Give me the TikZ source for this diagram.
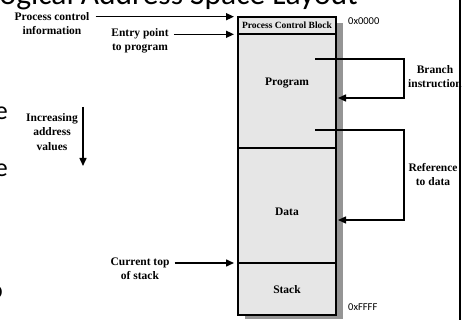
\documentclass[tikz,border=0pt]{standalone}
\usepackage{fontspec}
\setmainfont{Liberation Serif}
\newfontfamily\slidefont{Carlito}
\usetikzlibrary{arrows.meta}
\definecolor{boxfill}{HTML}{E6E6E6}
\definecolor{shadowgray}{HTML}{959595}
\tikzset{
  x=1pt, y=-1pt,
  sect/.style={draw=black, line width=1.7pt, fill=boxfill, anchor=north west,
    minimum width=98pt, inner sep=0pt, outer sep=0pt},
  lbl/.style={font=\fontsize{11.5}{14.5}\selectfont\bfseries, align=center, inner sep=2pt},
  boxtxt/.style={font=\fontsize{11.5}{14}\selectfont\bfseries, inner sep=0pt},
  addr/.style={font=\slidefont\fontsize{10.5}{12}\selectfont, anchor=west, inner sep=0pt},
  arr/.style={line width=1.5pt, -{Triangle[length=8pt,width=7pt]}},
  conn/.style={line width=1.5pt},
}
\begin{document}
\begin{tikzpicture}
\useasboundingbox (0,0) rectangle (473,320);
% slide title and clipped slide text
\node[font=\slidefont\fontsize{31.5}{36}\selectfont, anchor=base east, inner sep=0pt] (title) at (358,5) {Logical Address Space Layout};
\node[font=\slidefont\fontsize{26}{30}\selectfont, anchor=base east, inner sep=0pt] (fragA) at (8,120) {e};
\node[font=\slidefont\fontsize{26}{30}\selectfont, anchor=base east, inner sep=0pt] (fragB) at (8,177) {e};
\node[font=\slidefont\fontsize{26}{30}\selectfont, anchor=base east, inner sep=0pt] (fragC) at (3,298) {o};
% shadow
\fill[shadowgray] (245,23) rectangle (343,319);
% memory sections
\node[sect, minimum height=17.6pt] (pcb) at (238,16.7) {};
\node[sect, minimum height=113.7pt] (prog) at (238,34.3) {};
\node[sect, minimum height=115pt] (data) at (238,148) {};
\node[sect, minimum height=52pt] (stack) at (238,263) {};
\node[font=\fontsize{9.5}{11}\selectfont\bfseries, inner sep=0pt] (pcbtxt) at (287,25.5) {Process Control Block};
\node[boxtxt] (progtxt) at (287,83) {Program};
\node[boxtxt] (datatxt) at (287,212) {Data};
\node[boxtxt] (stacktxt) at (287,290) {Stack};
% addresses
\node[addr] (a0) at (348,21) {0x0000};
\node[addr] (a1) at (348,307) {0xFFFF};
% left labels
\node[lbl] (pci) at (52,23.5) {Process control\\information};
\node[lbl] (ep) at (140,41) {Entry point\\to program};
\node[lbl] (inc) at (52,132) {Increasing\\address\\values};
\node[lbl] (cts) at (140,268.5) {Current top\\of stack};
% right labels
\node[lbl] (br) at (435,76.5) {Branch\\instruction};
\node[lbl] (ref) at (433,174.5) {Reference\\to data};
% frame line
\draw[line width=1.8pt] (460,-2) -- (460,322);
% arrows from left
\draw[arr] ([xshift=4pt]pci.east |- pcb.north west) -- ([xshift=-4pt]pcb.north west);
\draw[arr] ([xshift=3pt]ep.east |- prog.north west) -- ([xshift=-4pt]prog.north west);
\draw[arr] ([xshift=3pt]cts.east |- stack.north west) -- ([xshift=-4pt]stack.north west);
\coordinate (incA) at (83,107);
\coordinate (incB) at (83,166);
\draw[arr] (incA) -- (incB);
% branch and reference
\coordinate (brA) at (315,59);
\coordinate (brB) at (404,98);
\draw[arr] (brA) -| (brB) -- ([xshift=2pt]prog.east |- brB);
\coordinate (refA) at (315,130);
\coordinate (refB) at (404,220);
\draw[arr] (refA) -| (refB) -- ([xshift=2pt]data.east |- refB);
\end{tikzpicture}
\end{document}
